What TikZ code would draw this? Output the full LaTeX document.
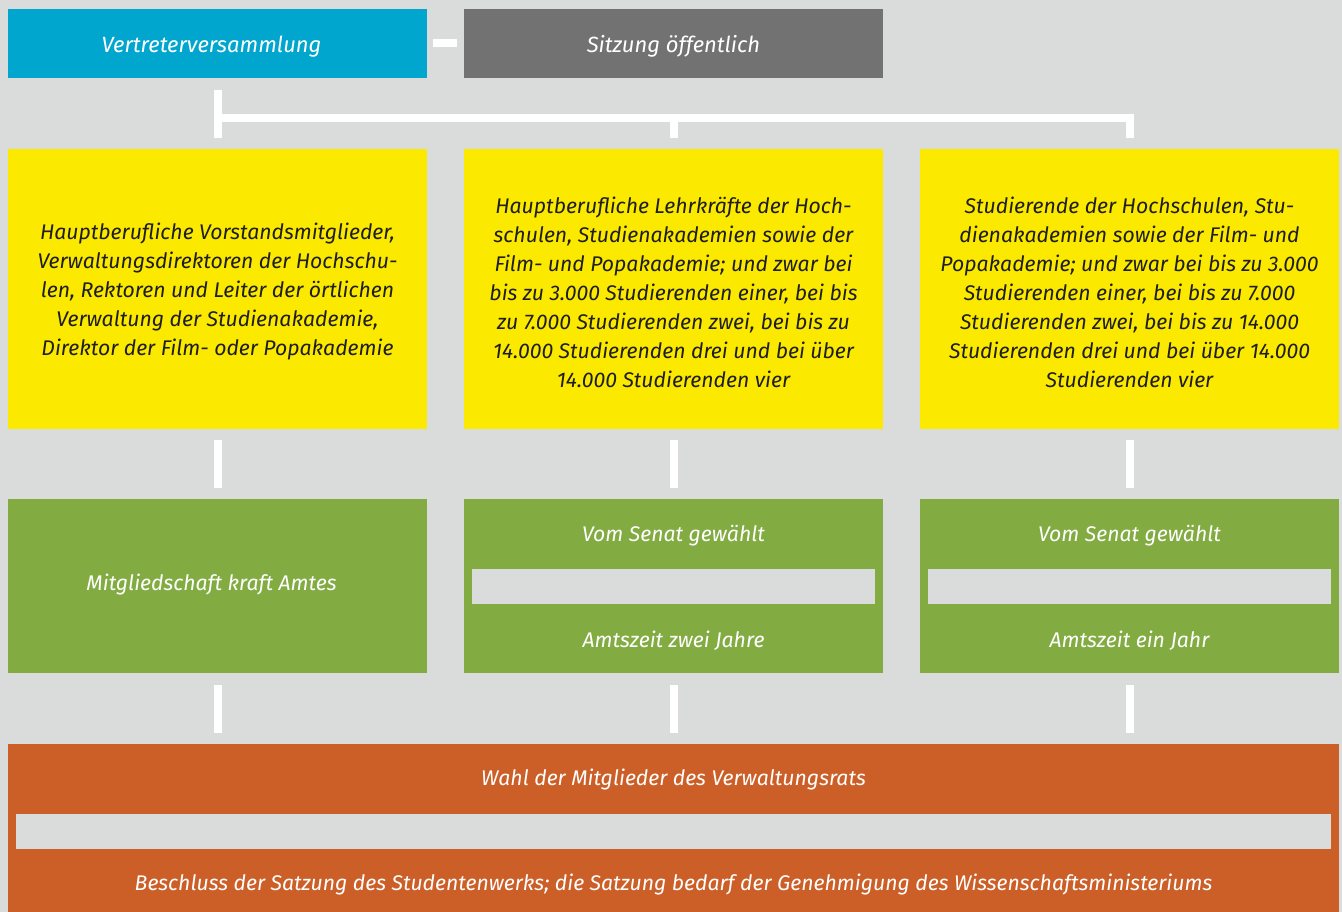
\documentclass[tikz,border=0pt]{standalone}
\usepackage{fontspec}
\setmainfont{Fira Sans}
\usetikzlibrary{calc}
\definecolor{bg}{RGB}{218,220,219}
\definecolor{cblue}{RGB}{0,166,206}
\definecolor{cgray}{RGB}{114,114,114}
\definecolor{cyellow}{RGB}{252,233,0}
\definecolor{cgreen}{RGB}{130,172,66}
\definecolor{corange}{RGB}{204,95,39}
\definecolor{ctext}{RGB}{30,30,30}
\begin{document}
\begin{tikzpicture}[x=1pt,y=-1pt,
  txt/.style={inner sep=0pt, align=center, font=\fontsize{21.2}{29}\selectfont\itshape},
  box/.style={rectangle, inner sep=0pt, outer sep=0pt, minimum width=419pt},
  topbox/.style={box, minimum height=69pt},
  ybox/.style={box, fill=cyellow, minimum height=280pt},
  gbox/.style={box, fill=cgreen, minimum height=174pt},
  bar/.style={rectangle, fill=bg, inner sep=0pt, outer sep=0pt, minimum height=35pt},
  lbl/.style={txt, text=white},
  dlbl/.style={txt, text=ctext},
  conn/.style={draw=white, line width=8pt, line cap=butt, line join=miter}]
\fill[bg] (0,0) rectangle (1342,912);
\useasboundingbox (0,0) rectangle (1342,912);
% top
\node[topbox, fill=cblue] (blue) at (217.5,43.5) {};
\node[topbox, fill=cgray] (gray) at (673.5,43.5) {};
\node[lbl, font=\fontsize{22}{29}\selectfont\itshape] at ($(blue)+(-6,3)$) {Vertreterversammlung};
\node[lbl, font=\fontsize{22}{29}\selectfont\itshape] at ($(gray)+(0,3)$) {Sitzung öffentlich};
\draw[conn] ([xshift=6pt]blue.east) -- ([xshift=-7pt]gray.west);
% yellow
\node[ybox] (y1) at (217.5,289) {};
\node[ybox] (y2) at (673.5,289) {};
\node[ybox] (y3) at (1129.5,289) {};
\node[dlbl] at ($(y1)+(0,3)$) {Hauptberufliche Vorstandsmitglieder,\\Verwaltungsdirektoren der Hochschu-\\len, Rektoren und Leiter der örtlichen\\Verwaltung der Studienakademie,\\Direktor der Film- oder Popakademie};
\node[dlbl] at ($(y2)+(0,3)$) {Hauptberufliche Lehrkräfte der Hoch-\\schulen, Studienakademien sowie der\\Film- und Popakademie; und zwar bei\\bis zu 3.000 Studierenden einer, bei bis\\zu 7.000 Studierenden zwei, bei bis zu\\14.000 Studierenden drei und bei über\\14.000 Studierenden vier};
\node[dlbl] at ($(y3)+(0,3)$) {Studierende der Hochschulen, Stu-\\dienakademien sowie der Film- und\\Popakademie; und zwar bei bis zu 3.000\\Studierenden einer, bei bis zu 7.000\\Studierenden zwei, bei bis zu 14.000\\Studierenden drei und bei über 14.000\\Studierenden vier};
% bracket
\coordinate (br) at ($(blue.south)+(0,40)$);
\draw[conn] ($(blue.south)+(0,12)$) -- ($(y1.north)+(0,-11)$);
\draw[conn] ($(y3.north)+(0,-11)$) -- (y3.north |- br) -- (br);
\draw[conn] (y2.north |- br) -- ($(y2.north)+(0,-11)$);
% green
\node[gbox] (g1) at (217.5,586) {};
\node[gbox] (g2) at (673.5,586) {};
\node[gbox] (g3) at (1129.5,586) {};
\node[bar, minimum width=403pt] (b2) at (673.5,586.5) {};
\node[bar, minimum width=403pt] (b3) at (1129.5,586.5) {};
\node[lbl] at ($(g1)+(-6,-1)$) {Mitgliedschaft kraft Amtes};
\node[lbl] at ($(g2.north)!0.5!(b2.north)+(0,2)$) {Vom Senat gewählt};
\node[lbl] at ($(b2.south)!0.5!(g2.south)+(0,2)$) {Amtszeit zwei Jahre};
\node[lbl] at ($(g3.north)!0.5!(b3.north)+(0,2)$) {Vom Senat gewählt};
\node[lbl] at ($(b3.south)!0.5!(g3.south)+(0,2)$) {Amtszeit ein Jahr};
\foreach \a/\b in {y1/g1,y2/g2,y3/g3}{
  \draw[conn] ($(\a.south)+(0,11)$) -- ($(\b.north)+(0,-11)$);
}
% orange
\node[rectangle, fill=corange, inner sep=0pt, minimum width=1331pt, minimum height=168pt] (o) at (673.5,828) {};
\node[bar, minimum width=1315pt] (ob) at (673.5,831.5) {};
\node[lbl] at ($(o.north)!0.5!(ob.north)+(0,1)$) {Wahl der Mitglieder des Verwaltungsrats};
\node[lbl] at ($(ob.south)!0.5!(o.south)+(0,4)$) {Beschluss der Satzung des Studentenwerks; die Satzung bedarf der Genehmigung des Wissenschaftsministeriums};
\foreach \a in {g1,g2,g3}{
  \draw[conn] ($(\a.south)+(0,12)$) -- ($(\a.south |- o.north)+(0,-11)$);
}
\end{tikzpicture}
\end{document}
